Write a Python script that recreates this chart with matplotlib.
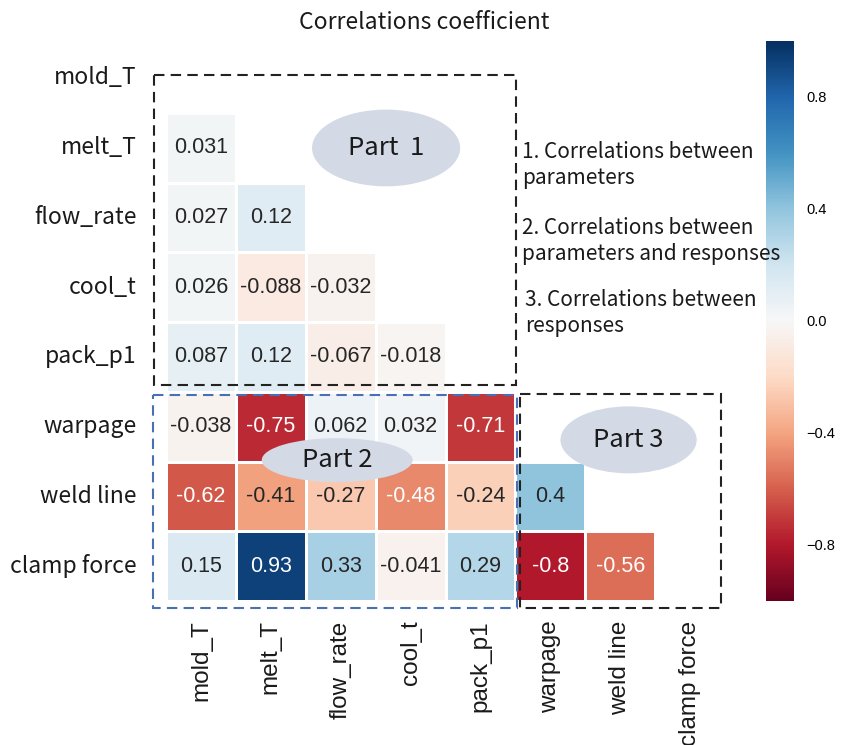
import numpy as np
import matplotlib
matplotlib.use("Agg")
import matplotlib.pyplot as plt
from matplotlib.patches import Rectangle, Ellipse
import seaborn as sns

labels = ["mold_T", "melt_T", "flow_rate", "cool_t", "pack_p1", "warpage", "weld line", "clamp force"]
row_melt_T = [0.031]
row_flow_rate = [0.027, 0.12]
row_cool_t = [0.026, -0.088, -0.032]
row_pack_p1 = [0.087, 0.12, -0.067, -0.018]
row_warpage = [-0.038, -0.75, 0.062, 0.032, -0.71]
row_weld_line = [-0.62, -0.41, -0.27, -0.48, -0.24, 0.4]
row_clamp_force = [0.15, 0.93, 0.33, -0.041, 0.29, -0.8, -0.56]
lower_rows = [row_melt_T, row_flow_rate, row_cool_t, row_pack_p1,
              row_warpage, row_weld_line, row_clamp_force]
cbar_ticks = [0.8, 0.4, 0.0, -0.4, -0.8]

n = len(labels)
corr = np.eye(n)
for i, row in enumerate(lower_rows, start=1):
    for j, v in enumerate(row):
        corr[i, j] = v
        corr[j, i] = v
mask = np.triu(np.ones_like(corr, dtype=bool))

CJK = ["Noto Sans CJK SC", "DejaVu Sans"]
ARIAL = ["Liberation Sans", "DejaVu Sans"]

fig = plt.figure(figsize=(8.43, 7.45), dpi=100)
ax = fig.add_axes([166/843, 1-601/745, 559/843, 558/745])
cax = fig.add_axes([766/843, 1-601/745, 28/843, 560/745])

sns.heatmap(corr, mask=mask, cmap="RdBu", vmin=-1, vmax=1, annot=True, fmt=".2g",
            linewidths=1.0, linecolor="white", ax=ax, cbar_ax=cax,
            annot_kws={"fontsize": 15.5, "family": ARIAL},
            xticklabels=labels, yticklabels=labels)

ax.tick_params(axis="both", length=0)
ax.tick_params(axis="y", pad=21)
ax.tick_params(axis="x", pad=14)
ax.set_yticklabels(labels, rotation=0, fontsize=16.5, family=CJK, fontweight="light", color="#1a1a1a")
ax.set_xticklabels(labels, rotation=90, fontsize=17.5, family=ARIAL, color="#1a1a1a", va="top")

cbar = ax.collections[0].colorbar
cbar.set_ticks(cbar_ticks)
cbar.ax.tick_params(length=0, labelsize=10.5, pad=9)
for t in cbar.ax.get_yticklabels():
    t.set_family(ARIAL)
cbar.outline.set_visible(False)

fig.suptitle("Correlations coefficient", x=0.503, y=0.985, fontsize=16.5, family=CJK,
             fontweight="light", color="#1a1a1a")

# dashed group boxes (data coords of the heatmap grid)
boxes = [(-0.17, 0.46, 5.18, 4.44, "#222222"),
         (-0.19, 5.05, 5.21, 3.05, "#4a70b4"),
         (5.06, 5.03, 2.88, 3.07, "#222222")]
for x0, y0, w, h, c in boxes:
    ax.add_patch(Rectangle((x0, y0), w, h, fill=False, ls=(0, (5, 3)), lw=1.5,
                           ec=c, clip_on=False, zorder=5))

ell_color = "#d3dae5"
ells = [(3.15, 1.505, 2.12, 1.10, "Part  1"),
        (2.45, 5.98, 2.16, 0.63, "Part 2"),
        (6.62, 5.69, 1.95, 0.96, "Part 3")]
for cx, cy, w, h, txt in ells:
    ax.add_patch(Ellipse((cx, cy), w, h, fc=ell_color, ec="none", clip_on=False, zorder=6))
    ax.text(cx, cy, txt, ha="center", va="center", fontsize=18.5, family=CJK,
            fontweight="light", color="#1a1a1a", zorder=7)

notes = [(522, 165, "1. Correlations between\nparameters"),
         (522, 241, "2. Correlations between\nparameters and responses"),
         (525, 313, "3. Correlations between\nresponses")]
for px, py, txt in notes:
    fig.text(px/843, 1-py/745, txt, ha="left", va="center", fontsize=15,
             family=CJK, fontweight="light", color="#1a1a1a", linespacing=1.2)

fig.savefig("out.png", dpi=100)
